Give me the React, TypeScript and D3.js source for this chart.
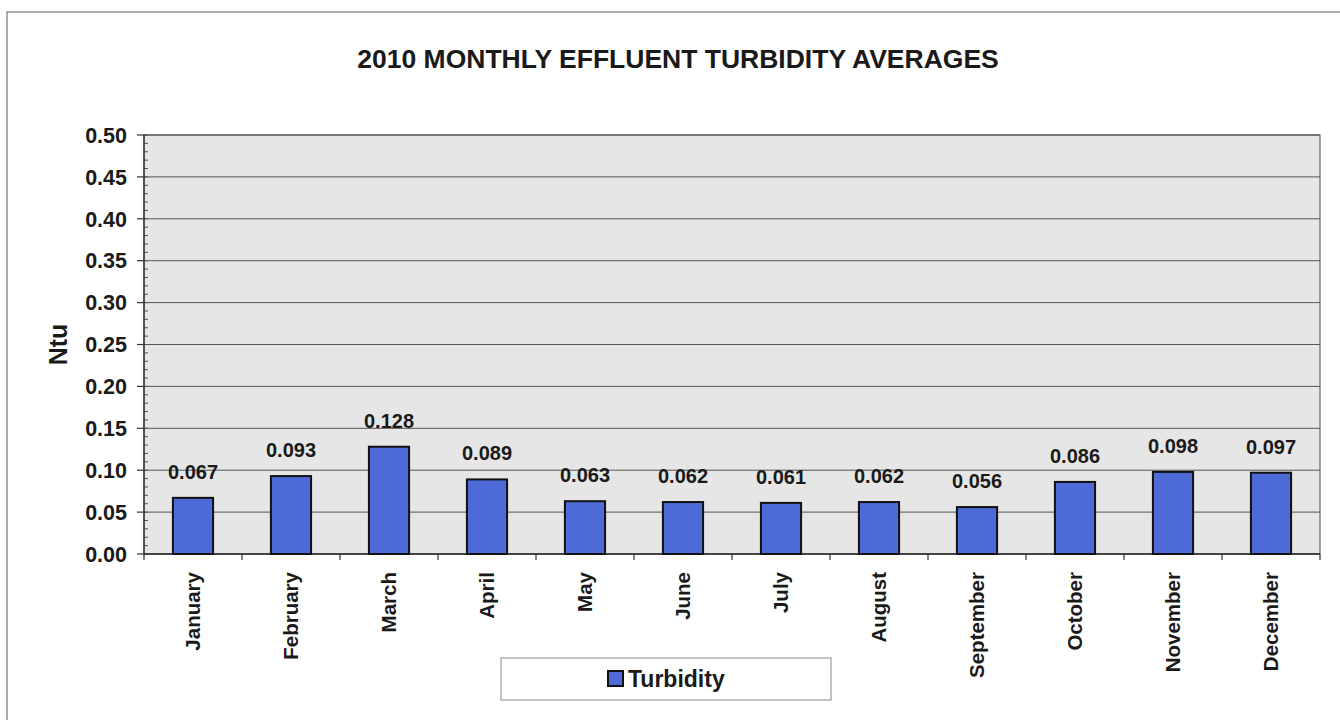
import * as d3 from 'd3'

// Monthly effluent turbidity, 2010
const MONTHS = [
  'January', 'February', 'March', 'April', 'May', 'June',
  'July', 'August', 'September', 'October', 'November', 'December',
]
const TURBIDITY = [0.067, 0.093, 0.128, 0.089, 0.063, 0.062, 0.061, 0.062, 0.056, 0.086, 0.098, 0.097]
const Y_TICKS = [0, 0.05, 0.1, 0.15, 0.2, 0.25, 0.3, 0.35, 0.4, 0.45, 0.5]

const WIDTH = 1340
const HEIGHT = 720
const FONT = 'Arial, "Liberation Sans", sans-serif'
const BAR_COLOR = '#4d6ad6'

const App = () => {
  const left = 144
  const right = 1320
  const top = 135
  const bottom = 554

  const x = d3.scaleBand<string>().domain(MONTHS).range([left, right]).paddingInner(0.59).paddingOuter(0.295)
  const band = d3.scaleBand<string>().domain(MONTHS).range([left, right])
  const y = d3.scaleLinear().domain([0, 0.5]).range([bottom, top])
  const minorTicks = d3.range(0, 0.501, 0.01)

  return (
    <svg width={WIDTH} height={HEIGHT} style={{ position: 'absolute', left: 0, top: 0, background: '#fff' }}>
      {/* outer chart border */}
      <rect x={7} y={12} width={WIDTH} height={HEIGHT} fill="none" stroke="#777" strokeWidth={1.2} />

      <text x={678} y={68} textAnchor="middle" fontFamily={FONT} fontWeight="bold" fontSize={26.5} fill="#1a1a1a">
        2010 MONTHLY EFFLUENT TURBIDITY AVERAGES
      </text>

      {/* plot area */}
      <rect x={left} y={top} width={right - left} height={bottom - top} fill="#e6e6e6" stroke="#666" strokeWidth={1.2} />

      {Y_TICKS.map(t => (
        <g key={t}>
          <line x1={left} x2={right} y1={y(t)} y2={y(t)} stroke="#555" strokeWidth={1} />
          <line x1={left - 7} x2={left} y1={y(t)} y2={y(t)} stroke="#333" strokeWidth={1.2} />
          <text x={127} y={y(t)} dy="0.36em" textAnchor="end" fontFamily={FONT} fontWeight="bold" fontSize={21.5} fill="#1a1a1a">
            {t.toFixed(2)}
          </text>
        </g>
      ))}
      {minorTicks.map(t => (
        <line key={t} x1={left} x2={left + 4} y1={y(t)} y2={y(t)} stroke="#555" strokeWidth={1} />
      ))}

      {/* axes */}
      <line x1={left} x2={left} y1={top} y2={bottom} stroke="#333" strokeWidth={1.4} />
      <line x1={left} x2={right} y1={bottom} y2={bottom} stroke="#333" strokeWidth={1.4} />
      {MONTHS.map(m => (
        <line key={m} x1={band(m)!} x2={band(m)!} y1={bottom} y2={bottom + 6} stroke="#333" strokeWidth={1.2} />
      ))}
      <line x1={right} x2={right} y1={bottom} y2={bottom + 6} stroke="#333" strokeWidth={1.2} />

      {/* bars */}
      {MONTHS.map((m, i) => (
        <g key={m}>
          <rect
            x={x(m)!}
            y={y(TURBIDITY[i])}
            width={x.bandwidth()}
            height={bottom - y(TURBIDITY[i])}
            fill={BAR_COLOR}
            stroke="#111"
            strokeWidth={2}
          />
          <text
            x={x(m)! + x.bandwidth() / 2}
            y={y(TURBIDITY[i]) - 19}
            textAnchor="middle"
            fontFamily={FONT}
            fontWeight="bold"
            fontSize={20}
            fill="#1a1a1a"
          >
            {TURBIDITY[i].toFixed(3)}
          </text>
          <text
            transform={`translate(${x(m)! + x.bandwidth() / 2},${bottom + 18}) rotate(-90)`}
            dy="0.36em"
            textAnchor="end"
            fontFamily={FONT}
            fontWeight="bold"
            fontSize={20.5}
            fill="#1a1a1a"
          >
            {m}
          </text>
        </g>
      ))}

      <text transform={`translate(58,${(top + bottom) / 2}) rotate(-90)`} textAnchor="middle" dy="0.36em" fontFamily={FONT} fontWeight="bold" fontSize={25} fill="#1a1a1a">
        Ntu
      </text>

      {/* legend */}
      <rect x={501} y={658} width={330} height={42} fill="#fff" stroke="#888" strokeWidth={1} />
      <rect x={608} y={671} width={15} height={15} fill={BAR_COLOR} stroke="#111" strokeWidth={2} />
      <text x={628} y={687} fontFamily={FONT} fontWeight="bold" fontSize={23} fill="#1a1a1a">
        Turbidity
      </text>
    </svg>
  )
}

export default App
